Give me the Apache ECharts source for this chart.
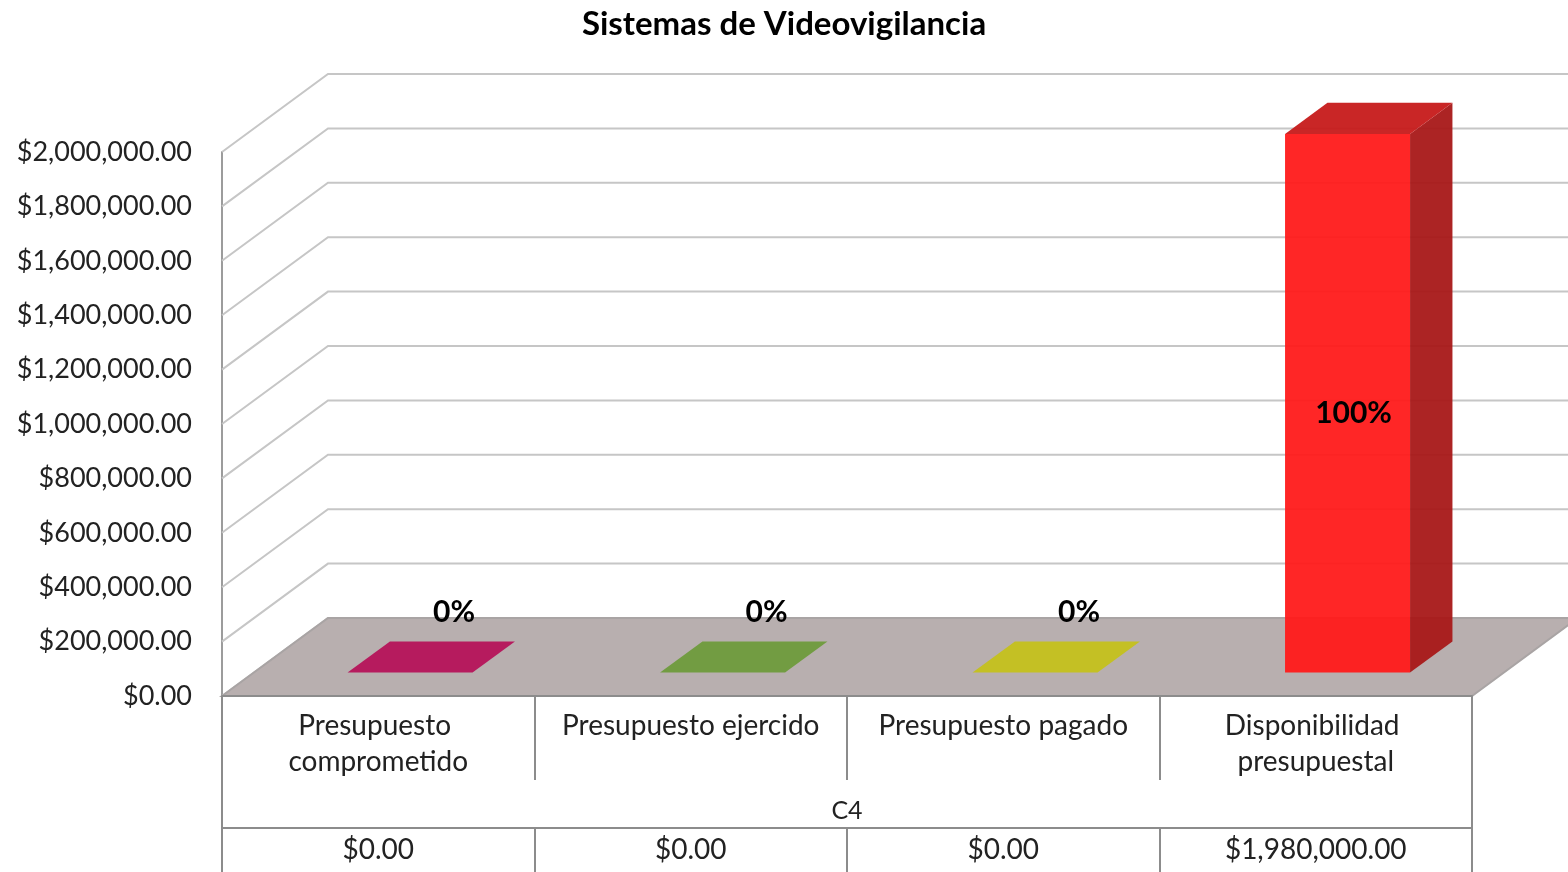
<!DOCTYPE html>
<html>
<head>
<meta charset="utf-8">
<title>Sistemas de Videovigilancia</title>
<script src="https://cdn.jsdelivr.net/npm/echarts@6/dist/echarts.min.js"></script>
<style>
  html, body { margin: 0; padding: 0; background: #fff; }
  #chart-container { width: 1568px; height: 872px; }
</style>
</head>
<body>
<div id="chart-container"></div>
<script>
// data
const categories = ['Presupuesto comprometido', 'Presupuesto ejercido', 'Presupuesto pagado', 'Disponibilidad presupuestal'];
const values = [0, 0, 0, 1980000];
const groupName = 'C4';
const yMin = 0, yMax = 2000000, yStep = 200000;

// face colours per category (front / top / side)
const frontColors = ['#D81B6E', '#7FB247', '#E2DE24', '#FF1A1A'];
const topColors = ['#B5135A', '#6E9B3C', '#C4C11C', '#C61A1A'];
const sideColors = ['#8E0F48', '#557A2E', '#9C9916', '#A81818'];

// 3d depth of the plot (pixels)
const DX = 106, DY = -78;
const FONT = 'Lato, "Open Sans", sans-serif';

const total = values.reduce((a, b) => a + b, 0);
const money = v => '$' + v.toLocaleString('en-US', { minimumFractionDigits: 2, maximumFractionDigits: 2 });

var dom = document.getElementById('chart-container');
var myChart = echarts.init(dom, null, { renderer: 'canvas' });

function renderWalls(params, api) {
  const cs = params.coordSys;
  const L = cs.x, R = cs.x + cs.width;
  const children = [];
  for (let v = yMin; v <= yMax; v += yStep) {
    const y = api.coord([0, v])[1];
    children.push({
      type: 'polyline',
      shape: { points: [[L, y], [L + DX, y + DY], [R + DX, y + DY]] },
      style: { stroke: '#C6C6C6', lineWidth: 2, fill: null }
    });
  }
  const y0 = api.coord([0, 0])[1];
  children.push({
    type: 'polygon',
    shape: { points: [[L, y0], [L + DX, y0 + DY], [R + DX, y0 + DY], [R, y0]] },
    style: { fill: '#B8AFAF', stroke: '#A9A4A4', lineWidth: 2 }
  });
  return { type: 'group', children };
}

function renderBar(params, api) {
  const i = api.value(0), v = api.value(1);
  const band = api.size([1, 0])[0];
  const base = api.coord([i, 0]);
  const top = api.coord([i, v]);
  const w = band * 0.4;
  const fx = base[0] + DX * 0.3 - w / 2;
  const yb = base[1] + DY * 0.3;
  const yt = top[1] + DY * 0.3;
  const ddx = DX * 0.4, ddy = DY * 0.4;
  const children = [];
  if (yb - yt > 0.5) {
    children.push({
      type: 'polygon',
      shape: { points: [[fx + w, yb], [fx + w + ddx, yb + ddy], [fx + w + ddx, yt + ddy], [fx + w, yt]] },
      style: { fill: sideColors[i], opacity: 0.95 }
    });
    children.push({
      type: 'rect',
      shape: { x: fx, y: yt, width: w, height: yb - yt },
      style: { fill: frontColors[i], opacity: 0.95 }
    });
  }
  children.push({
    type: 'polygon',
    shape: { points: [[fx, yt], [fx + ddx, yt + ddy], [fx + w + ddx, yt + ddy], [fx + w, yt]] },
    style: { fill: topColors[i], opacity: 0.95 }
  });
  const pct = Math.round(v / total * 100) + '%';
  const tall = yb - yt > 60;
  children.push({
    type: 'text',
    x: tall ? fx + w / 2 + 6 : fx + w / 2 + 44,
    y: tall ? (yb + yt) / 2 + 10 : yb - 60,
    style: {
      text: pct, fill: '#000', font: 'bold 30px ' + FONT,
      align: 'center', verticalAlign: 'middle'
    }
  });
  return { type: 'group', children };
}

var option = {
  backgroundColor: '#fff',
  animation: false,
  title: {
    text: 'Sistemas de Videovigilancia',
    left: 'center',
    top: 3,
    textStyle: { fontFamily: FONT, fontWeight: 'bold', fontSize: 33, color: '#000' }
  },
  grid: { left: 222, right: 96, top: 152, bottom: 176 },
  xAxis: [
    {
      type: 'category',
      data: categories,
      z: 5,
      axisLine: { show: true, lineStyle: { color: '#8C8C8C', width: 2 } },
      axisTick: { show: true, interval: 0, length: 84, lineStyle: { color: '#8C8C8C', width: 2 } },
      axisLabel: {
        interval: 0, margin: 12, width: 290, overflow: 'break',
        fontFamily: FONT, fontSize: 28, lineHeight: 36, color: '#222'
      }
    },
    {
      type: 'category',
      data: [groupName],
      position: 'bottom',
      offset: 132,
      z: 5,
      axisLine: { show: true, lineStyle: { color: '#8C8C8C', width: 2 } },
      axisTick: { show: true, inside: true, length: 48, lineStyle: { color: '#8C8C8C', width: 2 } },
      axisLabel: { inside: true, margin: 5, fontFamily: FONT, fontSize: 25, color: '#222' }
    },
    {
      type: 'category',
      data: categories,
      position: 'bottom',
      offset: 132,
      z: 5,
      axisLine: { show: false },
      axisTick: { show: true, interval: 0, length: 44, lineStyle: { color: '#8C8C8C', width: 2 } },
      axisLabel: {
        interval: 0, margin: 8, fontFamily: FONT, fontSize: 28, color: '#222',
        formatter: (val, idx) => money(values[idx])
      }
    }
  ],
  yAxis: {
    type: 'value',
    min: yMin,
    max: yMax,
    interval: yStep,
    axisLine: { show: true, lineStyle: { color: '#9C9C9C', width: 2 } },
    axisTick: { show: false },
    splitLine: { show: false },
    axisLabel: { margin: 30, fontFamily: FONT, fontSize: 27, color: '#222', formatter: money }
  },
  series: [
    {
      type: 'custom',
      name: 'walls',
      renderItem: renderWalls,
      clip: false,
      z: 1,
      silent: true,
      data: [[0, 0]]
    },
    {
      type: 'custom',
      name: groupName,
      renderItem: renderBar,
      clip: false,
      z: 3,
      encode: { x: 0, y: 1 },
      data: values.map((v, i) => [i, v])
    }
  ]
};

myChart.setOption(option);
window.addEventListener('resize', myChart.resize);
</script>
</body>
</html>
